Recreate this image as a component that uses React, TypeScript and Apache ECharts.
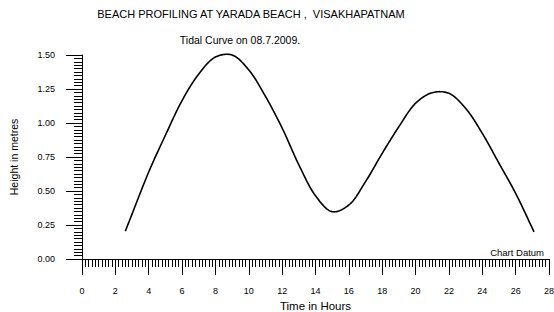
import React, { useEffect, useRef } from "react";
import * as echarts from "echarts";

const mainTitle = "BEACH PROFILING AT YARADA BEACH ,  VISAKHAPATNAM";
const subTitle = "Tidal Curve on 08.7.2009.";
const xName = "Time in Hours";
const yName = "Height in metres";
const datumLabel = "Chart Datum";

const hours = [
  2.6, 3, 4, 5, 6, 7, 8, 9, 10, 11, 12, 13, 14, 15, 16, 17, 18, 19, 20, 21,
  22, 23, 24, 25, 26, 27.1,
];
const heights = [
  0.205, 0.33, 0.64, 0.91, 1.165, 1.36, 1.485, 1.5, 1.39, 1.196, 0.963,
  0.693, 0.465, 0.348, 0.397, 0.569, 0.777, 0.973, 1.145, 1.223, 1.218, 1.108,
  0.924, 0.704, 0.483, 0.2,
];

const FONT = "'Liberation Sans', Arial, sans-serif";

// Centripetal Catmull-Rom through pixel points (rendering only)
function splinePoints(pts: number[][], steps: number): number[][] {
  const out: number[][] = [];
  const n = pts.length;
  const get = (i: number) => {
    if (i < 0) {
      const a = pts[0], b = pts[1];
      return [2 * a[0] - b[0], 2 * a[1] - b[1]];
    }
    if (i >= n) {
      const a = pts[n - 1], b = pts[n - 2];
      return [2 * a[0] - b[0], 2 * a[1] - b[1]];
    }
    return pts[i];
  };
  const tj = (ti: number, p: number[], q: number[]) =>
    ti + Math.pow(Math.hypot(q[0] - p[0], q[1] - p[1]), 0.5) + 1e-6;
  for (let i = 0; i < n - 1; i++) {
    const p0 = get(i - 1), p1 = get(i), p2 = get(i + 1), p3 = get(i + 2);
    const t0 = 0;
    const t1 = tj(t0, p0, p1);
    const t2 = tj(t1, p1, p2);
    const t3 = tj(t2, p2, p3);
    for (let s = 0; s < steps; s++) {
      const t = t1 + ((t2 - t1) * s) / steps;
      const pt = [0, 1].map((k) => {
        const a1 = ((t1 - t) / (t1 - t0)) * p0[k] + ((t - t0) / (t1 - t0)) * p1[k];
        const a2 = ((t2 - t) / (t2 - t1)) * p1[k] + ((t - t1) / (t2 - t1)) * p2[k];
        const a3 = ((t3 - t) / (t3 - t2)) * p2[k] + ((t - t2) / (t3 - t2)) * p3[k];
        const b1 = ((t2 - t) / (t2 - t0)) * a1 + ((t - t0) / (t2 - t0)) * a2;
        const b2 = ((t3 - t) / (t3 - t1)) * a2 + ((t - t1) / (t3 - t1)) * a3;
        return ((t2 - t) / (t2 - t1)) * b1 + ((t - t1) / (t2 - t1)) * b2;
      });
      out.push(pt);
    }
  }
  out.push(pts[n - 1]);
  return out;
}

export default function App() {
  const ref = useRef<HTMLDivElement>(null);
  useEffect(() => {
    if (!ref.current) return;
    const chart = echarts.init(ref.current, null, { renderer: "svg" });
    chart.setOption({
      animation: false,
      backgroundColor: "#fff",
      textStyle: { fontFamily: FONT, color: "#000" },
      title: [
        {
          text: mainTitle,
          left: 251,
          textAlign: "center",
          top: 8,
          padding: 0,
          textStyle: { fontFamily: FONT, fontSize: 11, fontWeight: "normal", color: "#000" },
        },
        {
          text: subTitle,
          left: 240,
          textAlign: "center",
          top: 34,
          padding: 0,
          textStyle: { fontFamily: FONT, fontSize: 10.5, fontWeight: "normal", color: "#000" },
        },
      ],
      grid: {
        left: 82,
        right: 5,
        top: 55,
        bottom: 53,
        containLabel: false,
        outerBoundsMode: "none",
      },
      xAxis: {
        type: "value",
        min: 0,
        max: 28,
        interval: 2,
        name: xName,
        nameLocation: "middle",
        nameGap: 38,
        nameTextStyle: { fontFamily: FONT, fontSize: 11.5, color: "#000" },
        axisLine: { show: true, lineStyle: { color: "#000", width: 1 } },
        axisTick: { show: true, inside: false, length: 16, lineStyle: { color: "#000" } },
        minorTick: { show: true, splitNumber: 10, length: 8, lineStyle: { color: "#000" } },
        axisLabel: { fontFamily: FONT, fontSize: 9, color: "#000", margin: 27 },
        splitLine: { show: false },
      },
      yAxis: {
        type: "value",
        min: 0,
        max: 1.5,
        interval: 0.25,
        name: yName,
        nameLocation: "middle",
        nameGap: 63,
        nameTextStyle: { fontFamily: FONT, fontSize: 10.5, color: "#000" },
        axisLine: { show: true, lineStyle: { color: "#000", width: 1 } },
        axisTick: { show: true, inside: false, length: 16, lineStyle: { color: "#000" } },
        minorTick: { show: true, splitNumber: 10, length: 8, lineStyle: { color: "#000" } },
        axisLabel: {
          fontFamily: FONT,
          fontSize: 9,
          color: "#000",
          margin: 27,
          formatter: (v: number) => v.toFixed(2),
        },
        splitLine: { show: false },
      },
      graphic: [
        {
          type: "text",
          right: 10,
          top: 247,
          style: { text: datumLabel, font: `9.5px ${FONT}`, fill: "#000" },
        },
      ],
      series: [
        {
          type: "custom",
          name: "Tide",
          coordinateSystem: "cartesian2d",
          encode: { x: 0, y: 1 },
          data: hours.map((h, i) => [h, heights[i]]),
          clip: false,
          renderItem: (params: any, api: any) => {
            if (params.dataIndex !== 0) return null;
            const pts = hours.map((h, i) => api.coord([h, heights[i]]));
            return {
              type: "polyline",
              shape: { points: splinePoints(pts, 16) },
              style: { stroke: "#000", lineWidth: 1.6, fill: null, lineJoin: "round" },
              silent: true,
            };
          },
        },
      ],
    });
    return () => chart.dispose();
  }, []);
  return <div ref={ref} style={{ width: 554, height: 312, position: "absolute", left: 0, top: 0 }} />;
}
